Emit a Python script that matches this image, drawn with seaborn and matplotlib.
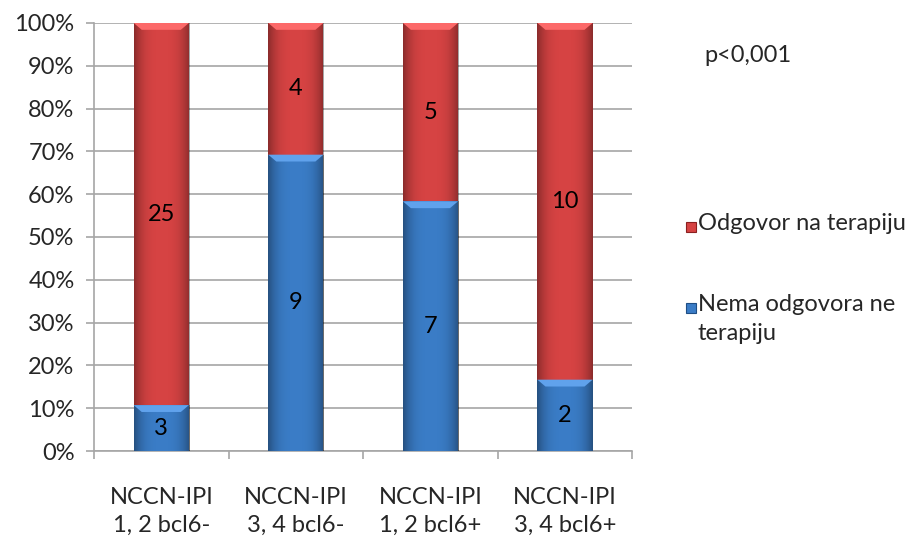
import numpy as np
import pandas as pd
import matplotlib
matplotlib.use("Agg")
import matplotlib.pyplot as plt
import seaborn as sns
from matplotlib.ticker import FixedLocator, PercentFormatter
from matplotlib.patches import Rectangle

categories = ["NCCN-IPI\n1, 2 bcl6-", "NCCN-IPI\n3, 4 bcl6-", "NCCN-IPI\n1, 2 bcl6+", "NCCN-IPI\n3, 4 bcl6+"]
no_response = [3, 9, 7, 2]       # Nema odgovora ne terapiju
response = [25, 4, 5, 10]        # Odgovor na terapiju
label_response = "Odgovor na terapiju"
label_no_response = "Nema odgovora ne\nterapiju"
p_text = "p<0,001"

sns.set_theme(style="white")
plt.rcParams["font.family"] = ["Lato", "DejaVu Sans"]

df = pd.DataFrame({"cat": categories, "no": no_response, "yes": response})
df["total"] = df["no"] + df["yes"]
df["no_pct"] = df["no"] / df["total"] * 100
df["full"] = 100.0

RED = "#D64343"
BLUE = "#3A7CC6"
FS = 17
W, H = 917, 538

fig = plt.figure(figsize=(W / 100, H / 100), dpi=100)
ax = fig.add_axes([0.1025, 0.1617, 0.587, 0.7956])

sns.barplot(data=df, x="cat", y="full", color=RED, saturation=1, width=0.41, ax=ax, zorder=3)
n_red = len(ax.patches)
sns.barplot(data=df, x="cat", y="no_pct", color=BLUE, saturation=1, width=0.41, ax=ax, zorder=4)

# shading on the bars: darker edges, lighter bevel at the top
grad = np.abs(np.linspace(-1, 1, 64))
grad = (grad ** 3)[None, :]
shade = matplotlib.colors.LinearSegmentedColormap.from_list(
    "shade", [(0, 0, 0, 0.0), (0, 0, 0, 0.35)])
for i, p in enumerate(ax.patches):
    x0, y0 = p.get_x(), p.get_y()
    w, h = p.get_width(), p.get_height()
    z = p.get_zorder()
    p.set_edgecolor("none")
    im = ax.imshow(grad, extent=(x0, x0 + w, y0, y0 + h), aspect="auto",
                   cmap=shade, vmin=0, vmax=1, zorder=z + 0.1, origin="lower")
    im.set_clip_path(p)
    bev = 1.6
    base = RED if i < n_red else BLUE
    light = matplotlib.colors.to_rgba(base)
    light = tuple(min(1, c + 0.15) for c in light[:3]) + (1,)
    ax.fill([x0, x0 + w, x0 + w - 0.06, x0 + 0.06],
            [y0 + h, y0 + h, y0 + h - bev, y0 + h - bev],
            color=light, zorder=z + 0.2, lw=0)

# values inside the segments
for i in range(len(df)):
    npct = df["no_pct"].iloc[i]
    ax.text(i, npct / 2, str(df["no"].iloc[i]), ha="center", va="center",
            fontsize=FS, color="black", zorder=6)
    ax.text(i, npct + (100 - npct) / 2, str(df["yes"].iloc[i]), ha="center", va="center",
            fontsize=FS, color="black", zorder=6)

ax.set_xlim(-0.5, len(df) - 0.5)
ax.set_ylim(0, 100)
ax.set_xlabel("")
ax.set_ylabel("")
ax.yaxis.set_major_locator(FixedLocator(np.arange(0, 101, 10)))
ax.yaxis.set_major_formatter(PercentFormatter(decimals=0))
ax.grid(axis="y", color="#A6A6A6", linewidth=1.2, zorder=0)
ax.set_axisbelow(True)
for s in ["top", "right"]:
    ax.spines[s].set_visible(False)
for s in ["left", "bottom"]:
    ax.spines[s].set_color("#A6A6A6")
    ax.spines[s].set_linewidth(1.2)
ax.tick_params(axis="y", which="major", direction="out", length=6, width=1.2,
               color="#A6A6A6", labelsize=FS, pad=8, left=True)
ax.set_xticks(range(len(df)))
ax.set_xticklabels(categories)
ax.tick_params(axis="x", which="major", length=0, labelsize=FS, pad=26)
ax.set_xticks(np.arange(-0.5, len(df), 1.0), minor=True)
ax.tick_params(axis="x", which="minor", direction="out", length=6, width=1.2,
               color="#A6A6A6", bottom=True)
for lab in ax.get_xticklabels():
    lab.set_linespacing(1.4)

# legend: square markers aligned with the first line of each label
legend_items = [(label_response, RED, "#8B2020", 227),
                (label_no_response, BLUE, "#1F4E85", 308)]
for text, face, edge, ypx in legend_items:
    sq = 10
    fig.add_artist(Rectangle((686 / W, 1 - (ypx + sq / 2) / H), sq / W, sq / H,
                             transform=fig.transFigure, facecolor=face,
                             edgecolor=edge, linewidth=0.8))
    fig.text(698 / W, 1 - (ypx - 14) / H, text, fontsize=FS, ha="left", va="top",
             linespacing=1.5)

fig.text(0.768, 0.897, p_text, fontsize=FS, ha="left", va="center")

fig.savefig("out.png", dpi=100)
